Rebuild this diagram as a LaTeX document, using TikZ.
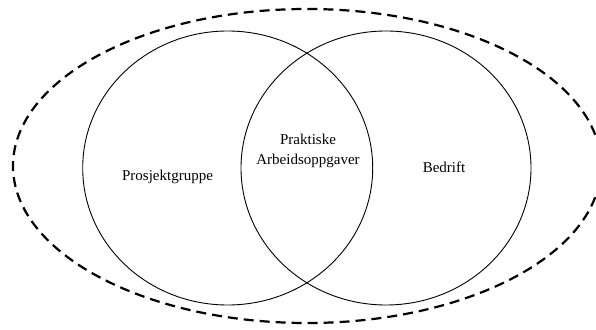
\documentclass[tikz,border=0pt]{standalone}
\usepackage{fontspec}
\setmainfont{Liberation Serif}
\begin{document}
\begin{tikzpicture}[x=1pt,y=1pt,
  setline/.style={draw=black,line width=0.9pt},
  outerline/.style={draw=black,line width=2.2pt,dash pattern=on 10pt off 6pt},
  lbl/.style={font=\fontsize{15}{20}\selectfont,inner sep=0pt,anchor=base,align=center}]
  \useasboundingbox (0,0) rectangle (596,329);
  \begin{scope}
    \clip (0,0) rectangle (596,329);
    % surrounding dashed boundary
    \draw[outerline] (307,163) ellipse [x radius=294, y radius=157];
  \end{scope}
  % the two overlapping sets
  \draw[setline] (227.7,161) ellipse [x radius=145, y radius=137];
  \draw[setline] (386,161) ellipse [x radius=145, y radius=137];
  % labels
  \node[lbl] (gruppe) at (167.5,148) {Prosjektgruppe};
  \node[lbl] (felles) at (308,164) {Praktiske\\Arbeidsoppgaver};
  \node[lbl] (bedrift) at (444,156) {Bedrift};
\end{tikzpicture}
\end{document}
